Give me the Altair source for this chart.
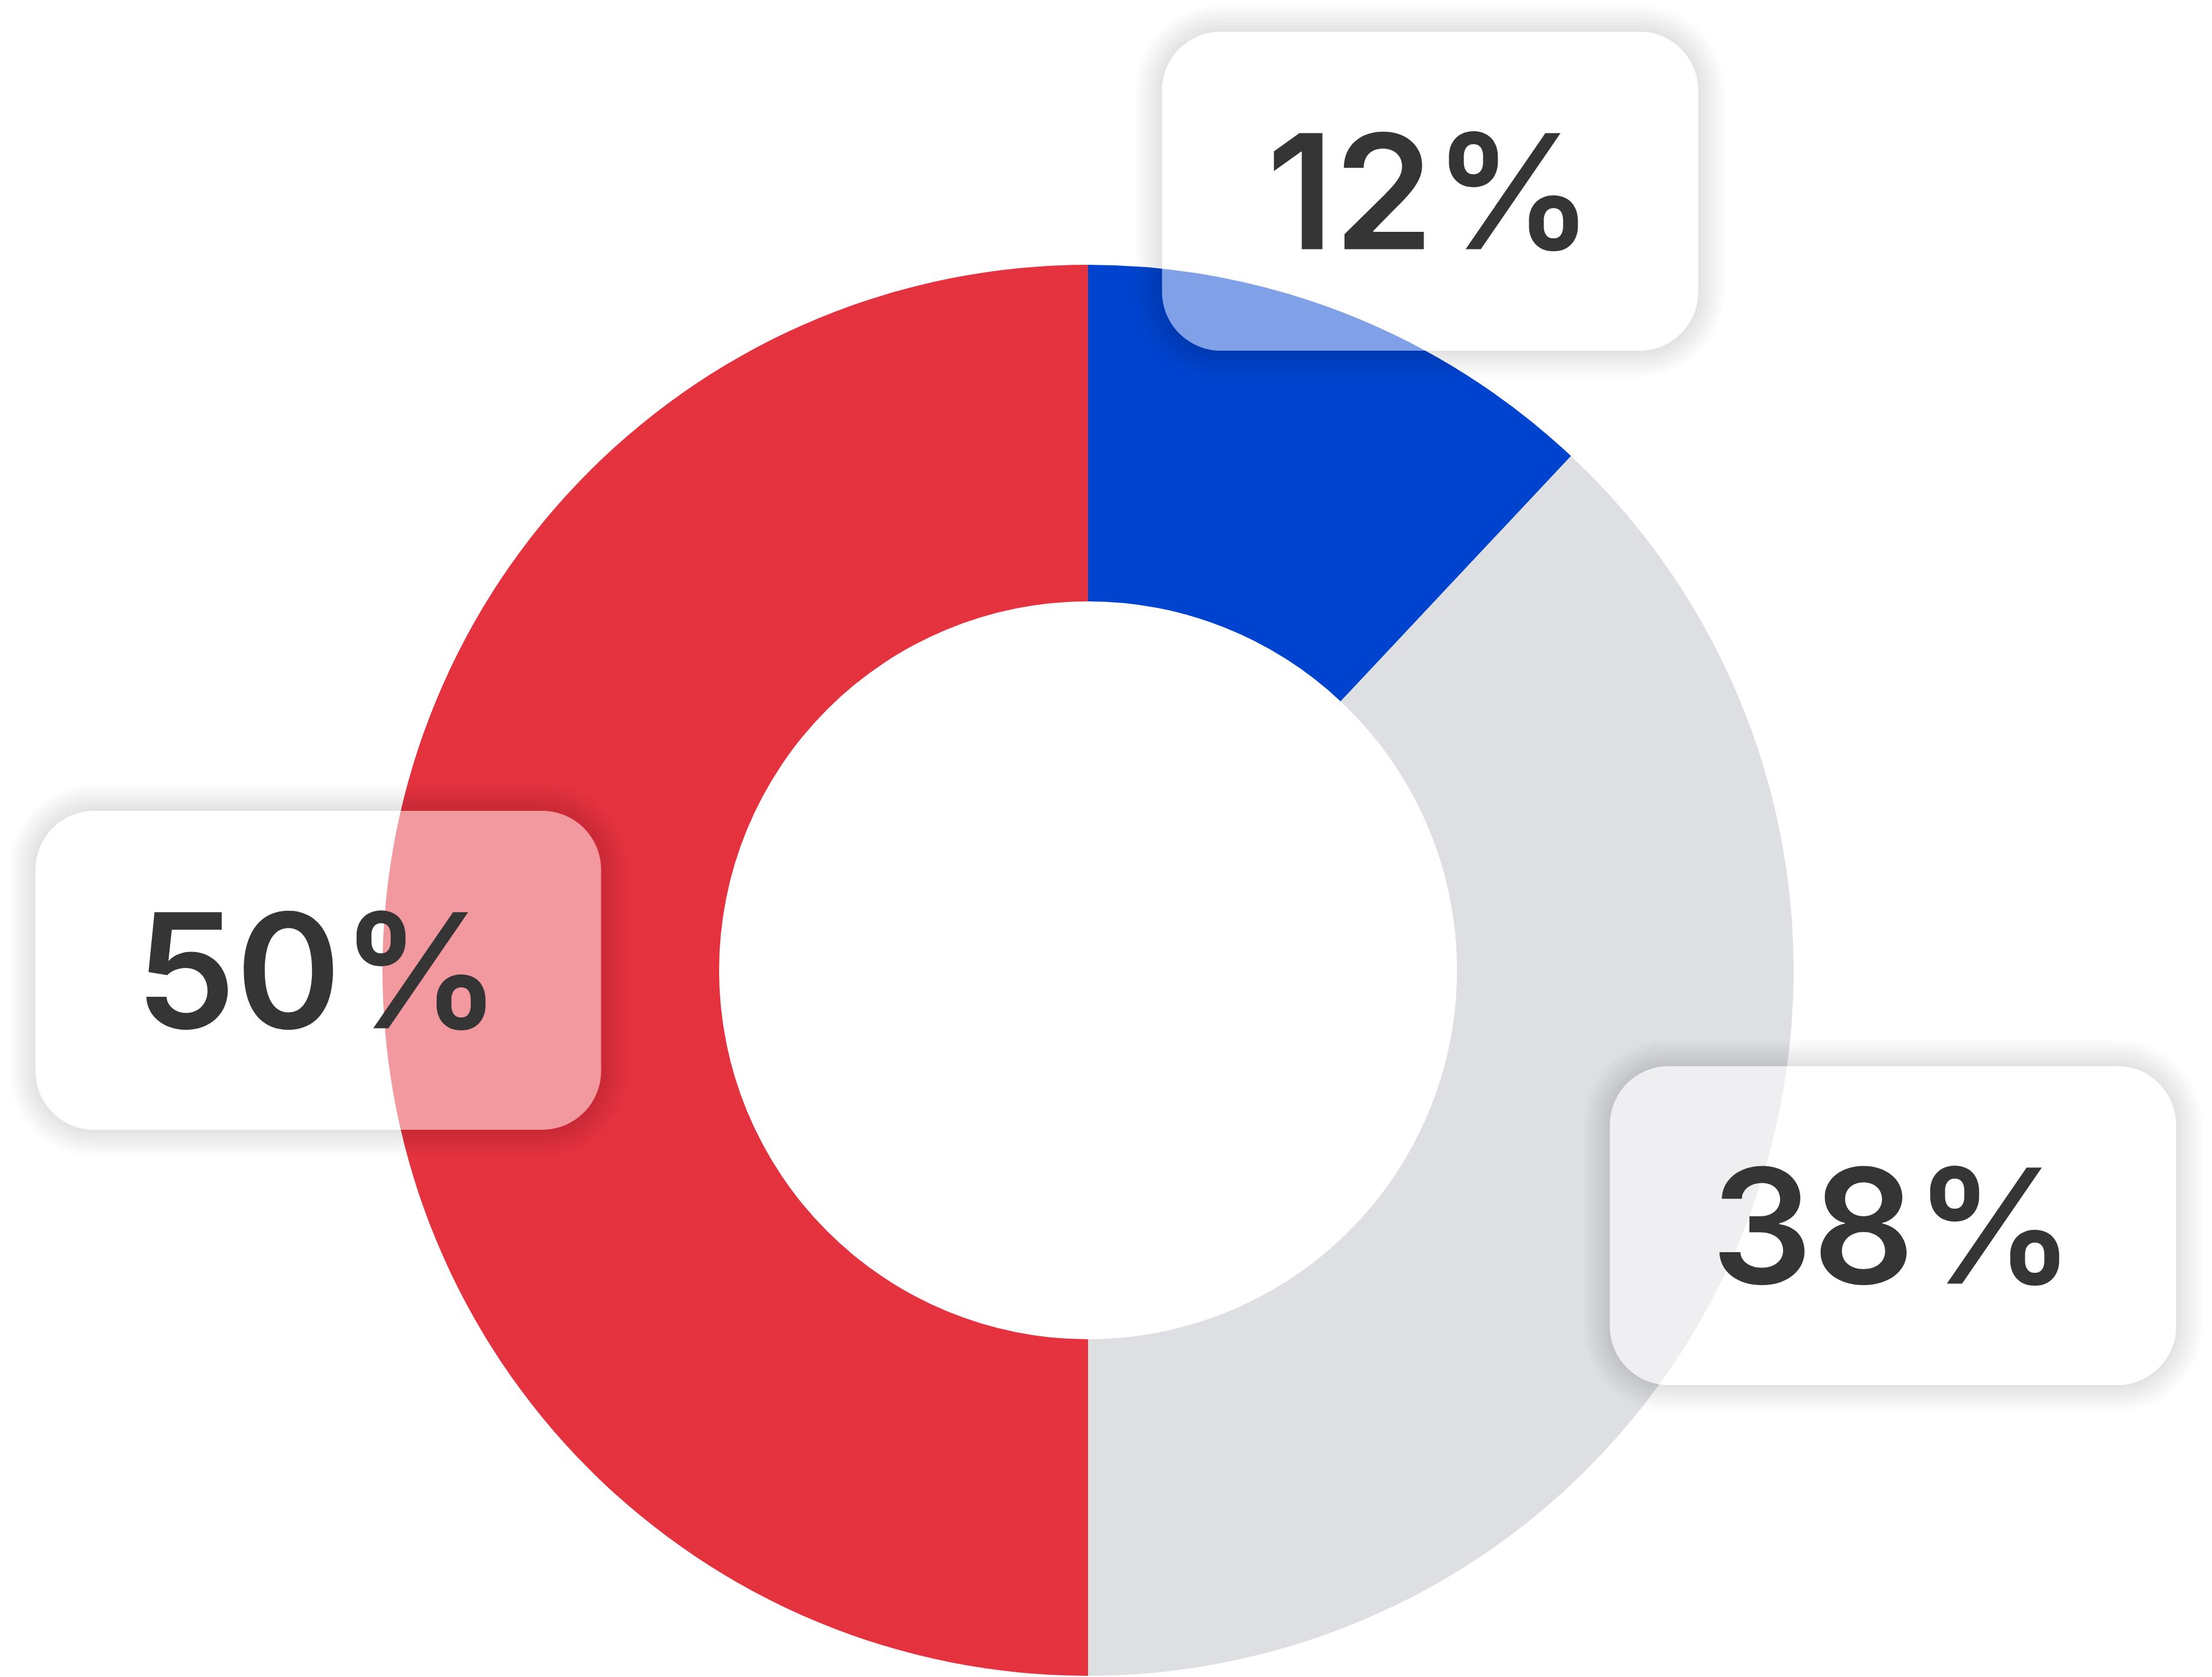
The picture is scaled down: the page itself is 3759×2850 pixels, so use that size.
import math
import altair as alt
import pandas as pd

# ---- data ----
categories = ["A", "B", "C"]
values = [12, 38, 50]
colors = ["#0043CE", "#DEDFE3", "#E5323F"]

# ---- layout (chart pixel coordinates; page margin is 8px) ----
W, H = 3743, 2834
CX, CY = 1841, 1641
R_OUT, R_IN = 1199, 627
LABEL_RADIUS = [1446, 1435, 1308]
LABEL_NUDGE_DEG = [2.1, -4.0, 0.0]
BOX_W = [911, 962, 961]
BOX_H = 542
BOX_R = 100
FONT_SIZE = 271
CAP = 0.727
SHADOW_STEPS = 9
SHADOW_STEP = 5
SHADOW_OPACITY = 0.012

df = pd.DataFrame({"cat": categories, "value": values, "idx": list(range(len(values)))})

total = sum(values)
cum = 0
rows = []
for i, v in enumerate(values):
    mid = (cum + v / 2) / total * 360 + LABEL_NUDGE_DEG[i]
    cum += v
    a = math.radians(mid)
    cx = CX + LABEL_RADIUS[i] * math.sin(a)
    cy = CY - LABEL_RADIUS[i] * math.cos(a)
    rows.append({
        "label": f"{v}%",
        "cx": cx, "cy": cy,
        "x1": cx - BOX_W[i] / 2, "x2": cx + BOX_W[i] / 2,
        "y1": cy - BOX_H / 2, "y2": cy + BOX_H / 2,
        "ty": cy + CAP / 2 * FONT_SIZE,
    })
boxes = pd.DataFrame(rows)

donut = alt.Chart(df).mark_arc(innerRadius=R_IN, outerRadius=R_OUT).encode(
    theta=alt.Theta("value:Q", stack=True),
    color=alt.Color("cat:N", scale=alt.Scale(domain=categories, range=colors), legend=None),
    order=alt.Order("idx:Q"),
    x=alt.value(CX),
    y=alt.value(CY),
)

layers = [donut]

# soft shadow rings around the boxes (outside only)
for k in range(1, SHADOW_STEPS + 1):
    e = k * SHADOW_STEP
    sh = boxes.copy()
    sh["sx1"] = sh["x1"] - e / 2
    sh["sx2"] = sh["x2"] + e / 2
    sh["sy1"] = sh["y1"] - e / 2
    sh["sy2"] = sh["y2"] + e / 2
    layers.append(
        alt.Chart(sh).mark_rect(
            filled=False, stroke="#000000", strokeWidth=e,
            strokeOpacity=SHADOW_OPACITY, cornerRadius=BOX_R + e / 2,
        ).encode(
            x=alt.X("sx1:Q", scale=None, axis=None),
            x2="sx2:Q",
            y=alt.Y("sy1:Q", scale=None, axis=None),
            y2="sy2:Q",
        )
    )

box = alt.Chart(boxes).mark_rect(
    fill="#FFFFFF", fillOpacity=0.5, cornerRadius=BOX_R, strokeWidth=0,
).encode(
    x=alt.X("x1:Q", scale=None, axis=None),
    x2="x2:Q",
    y=alt.Y("y1:Q", scale=None, axis=None),
    y2="y2:Q",
)

text = alt.Chart(boxes).mark_text(
    font="Inter", fontWeight=600, fontSize=FONT_SIZE, color="#353535",
    align="center", baseline="alphabetic",
).encode(
    x=alt.X("cx:Q", scale=None, axis=None),
    y=alt.Y("ty:Q", scale=None, axis=None),
    text="label:N",
)

layers += [box, text]

chart = alt.layer(*layers).properties(
    width=W, height=H, padding=0, background="#FFFFFF",
).configure_view(stroke=None, strokeWidth=0)

chart.save("out.html", embed_options={"renderer": "svg", "actions": False})
